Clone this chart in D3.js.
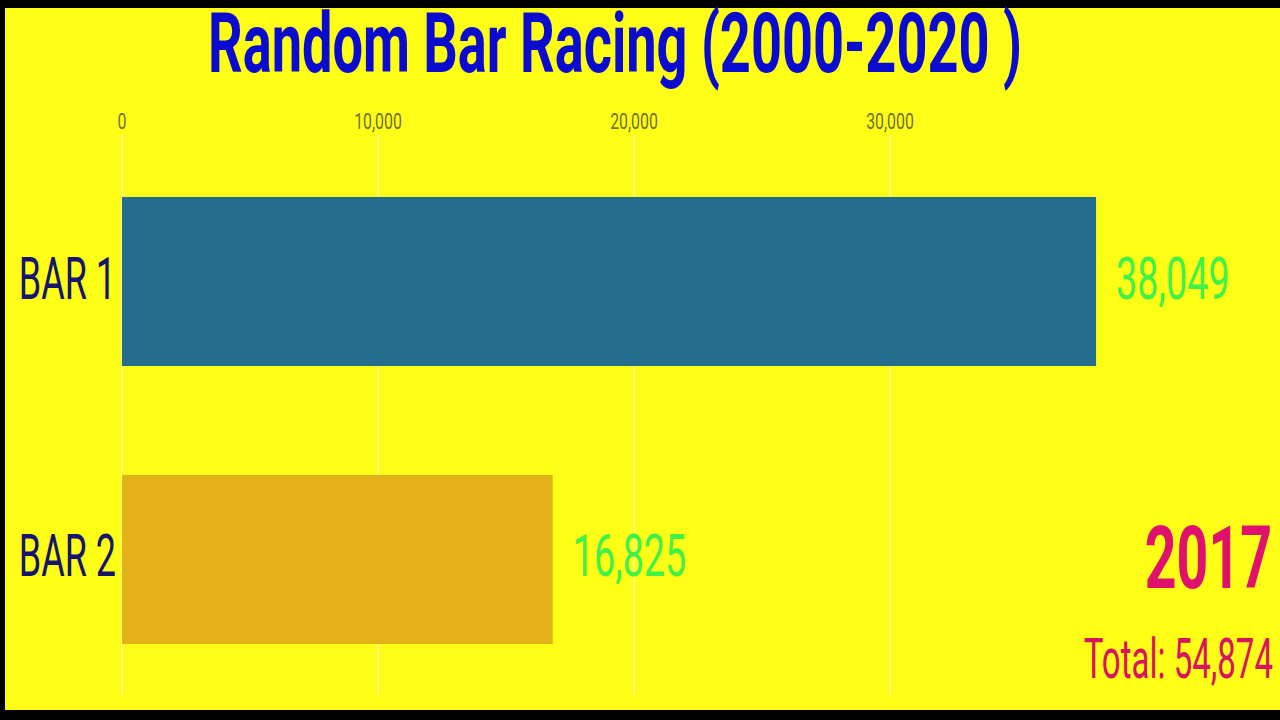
<!DOCTYPE html>
<html>
<head>
<meta charset="utf-8">
<script src="https://cdn.jsdelivr.net/npm/d3@7"></script>
<style>
  html, body { margin: 0; padding: 0; background: #000; }
  svg { display: block; }
</style>
</head>
<body>
<div id="main"></div>
<script>
// data for the frame shown (year 2017)
const barNames = ["BAR 1", "BAR 2"];
const barValues = [38049, 16825];
const barColors = ["#236e8c", "#e3b118"];
const tickValues = [0, 10000, 20000, 30000];
const titleText = "Random Bar Racing (2000-2020 )";
const yearLabel = "2017";

const ctx = {
  width: 1280,
  height: 720,
  left: 122,
  xMax: 45000,
  pxPer1000: 25.6
};

const fmt = d3.format(",");

// condensed look: Roboto squeezed horizontally
function placeText(sel, x, y, sx) {
  return sel.attr("transform", `translate(${x},${y}) scale(${sx},1)`);
}

function createViz() {
  const svg = d3.select("#main").append("svg")
    .attr("width", ctx.width)
    .attr("height", ctx.height);

  // yellow frame with black edges
  svg.append("rect").attr("width", ctx.width).attr("height", ctx.height).attr("fill", "#000");
  svg.append("rect").attr("x", 5).attr("y", 8)
    .attr("width", ctx.width - 5).attr("height", 702)
    .attr("fill", "#fdfd16");

  const x = d3.scaleLinear()
    .domain([0, ctx.xMax])
    .range([ctx.left, ctx.left + ctx.xMax / 1000 * ctx.pxPer1000]);

  const y = d3.scaleBand()
    .domain(barNames)
    .range([197, 644])
    .paddingInner(0.392)
    .paddingOuter(0);

  // grid lines + top axis labels
  const grid = svg.append("g").attr("id", "grid");
  grid.selectAll("line").data(tickValues).join("line")
    .attr("x1", d => x(d)).attr("x2", d => x(d))
    .attr("y1", 135).attr("y2", 695)
    .attr("stroke", "#fbf5a0")
    .attr("stroke-width", 1.5);

  grid.selectAll("text").data(tickValues).join("text")
    .attr("text-anchor", "middle")
    .attr("font-family", "Roboto")
    .attr("font-size", 22)
    .attr("fill", "#727230")
    .text(d => fmt(d))
    .each(function(d) { placeText(d3.select(this), x(d), 129, 0.72); });

  const rows = barNames.map((n, i) => ({ name: n, value: barValues[i], color: barColors[i] }));

  // bars
  svg.append("g").selectAll("rect").data(rows).join("rect")
    .attr("x", x(0))
    .attr("y", d => y(d.name))
    .attr("width", d => x(d.value) - x(0))
    .attr("height", y.bandwidth())
    .attr("fill", d => d.color);

  // names on the left
  svg.append("g").selectAll("text").data(rows).join("text")
    .attr("text-anchor", "end")
    .attr("font-family", "Roboto")
    .attr("font-size", 60)
    .attr("fill", "#15156e")
    .text(d => d.name)
    .each(function(d) { placeText(d3.select(this), x(0) - 6, y(d.name) + y.bandwidth() / 2 + 17, 0.6); });

  // values after the bars
  svg.append("g").selectAll("text").data(rows).join("text")
    .attr("text-anchor", "start")
    .attr("font-family", "Roboto")
    .attr("font-size", 60)
    .attr("fill", "#40f248")
    .text(d => fmt(d.value))
    .each(function(d) { placeText(d3.select(this), x(d.value) + 20, y(d.name) + y.bandwidth() / 2 + 17, 0.63); });

  // title
  svg.append("text")
    .attr("x", 615).attr("y", 72)
    .attr("text-anchor", "middle")
    .attr("font-family", "Roboto")
    .attr("font-weight", "bold")
    .attr("font-size", 84)
    .attr("fill", "#0b0bd0")
    .attr("textLength", 814)
    .attr("lengthAdjust", "spacingAndGlyphs")
    .text(titleText);

  // year + total
  const total = d3.sum(barValues);
  placeText(svg.append("text"), 1272, 588, 0.63)
    .attr("text-anchor", "end")
    .attr("font-family", "Roboto")
    .attr("font-weight", "bold")
    .attr("font-size", 88)
    .attr("fill", "#e0106e")
    .text(yearLabel);

  placeText(svg.append("text"), 1273, 678, 0.59)
    .attr("text-anchor", "end")
    .attr("font-family", "Roboto")
    .attr("font-size", 56)
    .attr("fill", "#d8135f")
    .text("Total: " + fmt(total));
}

createViz();
</script>
</body>
</html>
